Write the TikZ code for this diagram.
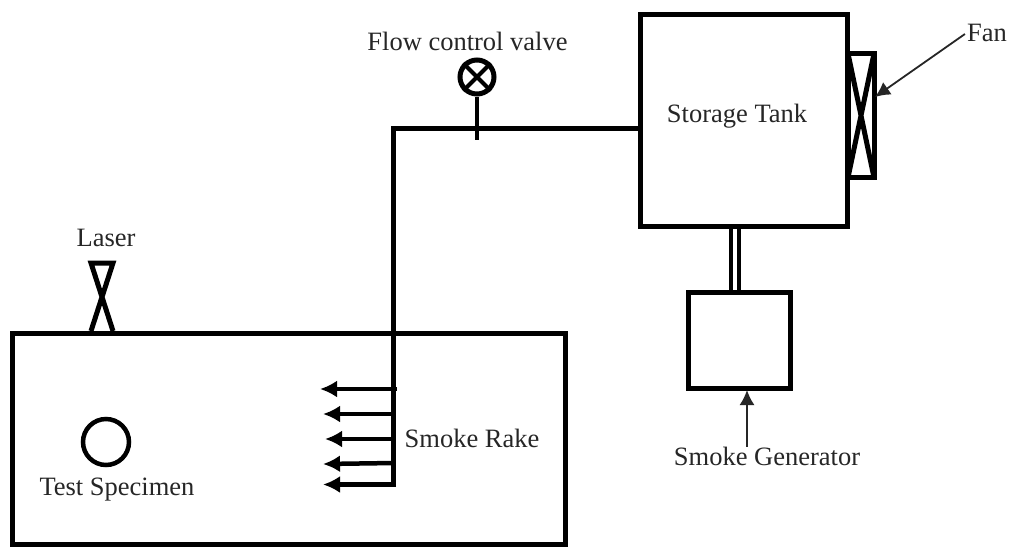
\documentclass[tikz,border=0pt]{standalone}
\usepackage{fontspec}
\setmainfont{Liberation Serif}
\usetikzlibrary{arrows.meta}
\tikzset{
  box/.style={draw=black,line width=5pt,rectangle,inner sep=0pt,outer sep=0pt},
  pipe/.style={draw=black,line width=5pt},
  thinpipe/.style={draw=black,line width=3.5pt},
  leader/.style={draw=black!85,line width=1.8pt,-{Latex[length=15pt,width=15pt]}},
  rake/.style={draw=black,line width=4.5pt,-{Latex[length=17pt,width=17pt]}},
  lbl/.style={font=\fontsize{26.5pt}{28pt}\selectfont,text=black!85,inner sep=0pt}
}
\begin{document}
\begin{tikzpicture}[x=1pt,y=-1pt]
\useasboundingbox (0,0) rectangle (1011,547);
\fill[white] (0,0) rectangle (1011,547);
% boxes
\node[box,minimum width=207pt,minimum height=212pt] (tank) at (743.5,120) {};
\node[box,minimum width=102pt,minimum height=96pt] (gen) at (739,340) {};
\node[box,minimum width=553pt,minimum height=211pt] (test) at (288.5,438.5) {};
\node[box,minimum width=26pt,minimum height=124pt] (fan) at (861,115.5) {};
\node[draw=black,line width=4.5pt,circle,minimum size=46pt,inner sep=0pt] (spec) at (106,442) {};
\node[draw=black,line width=5pt,circle,minimum size=34pt,inner sep=0pt] (valve) at (477,77) {};
% fan cross
\draw[black,line width=5pt] (fan.north west) -- (fan.south east) (fan.north east) -- (fan.south west);
% valve cross
\draw[black,line width=4pt] (valve.north west) -- (valve.south east) (valve.north east) -- (valve.south west);
% laser
\coordinate (lna) at (91,263);
\coordinate (lnb) at (113,263);
\coordinate (lsa) at (91,331);
\coordinate (lsb) at (113,331);
\draw[black,line width=5pt,line join=miter] (lsa) -- (lnb) -- (lna) -- (lsb);
% pipe
\coordinate (pipeT) at (393.5,128);
\coordinate (pipeB) at (393.5,486);
\coordinate (pipeR) at (tank.west|-pipeT);
\coordinate (stemEnd) at (477,140);
\draw[pipe,line join=miter] (pipeR) -- (pipeT) -- (pipeB);
\draw[black,line width=4.5pt] (valve.south) -- (stemEnd);
% rake
\coordinate (r1) at (397,389);
\coordinate (r2) at (394,414);
\coordinate (r3) at (394,439);
\coordinate (r4) at (394,463);
\coordinate (r5) at (396,484.5);
\draw[rake] (r1) -- (320,389);
\draw[rake] (r2) -- (323,414);
\draw[rake] (r3) -- (325,439);
\draw[rake] (r4) -- (323,464);
\draw[rake] (r5) -- (323,484.5);
% double line
\coordinate (dla) at (731,227);
\coordinate (dlb) at (739,227);
\draw[thinpipe] (dla) -- (dla|-gen.north);
\draw[thinpipe] (dlb) -- (dlb|-gen.north);
% labels
\node[lbl] (lflow) at (467.5,41) {Flow control valve};
\node[lbl] (ltank) at (737,116) {Storage Tank};
\node[lbl] (lfan) at (987,33) {Fan};
\node[lbl] (llaser) at (106,238) {Laser};
\node[lbl] (lrake) at (472,438.5) {Smoke Rake};
\node[lbl] (lspec) at (117,490) {Test Specimen};
\node[lbl] (lgen) at (767,456.5) {Smoke Generator};
% leaders
\coordinate (fanTip) at (875,97);
\coordinate (genTip) at (747,390);
\draw[leader] (lfan.west) ++(-2,1) -- (fanTip);
\draw[leader] (lgen.north-|genTip) -- (genTip);
\end{tikzpicture}
\end{document}
